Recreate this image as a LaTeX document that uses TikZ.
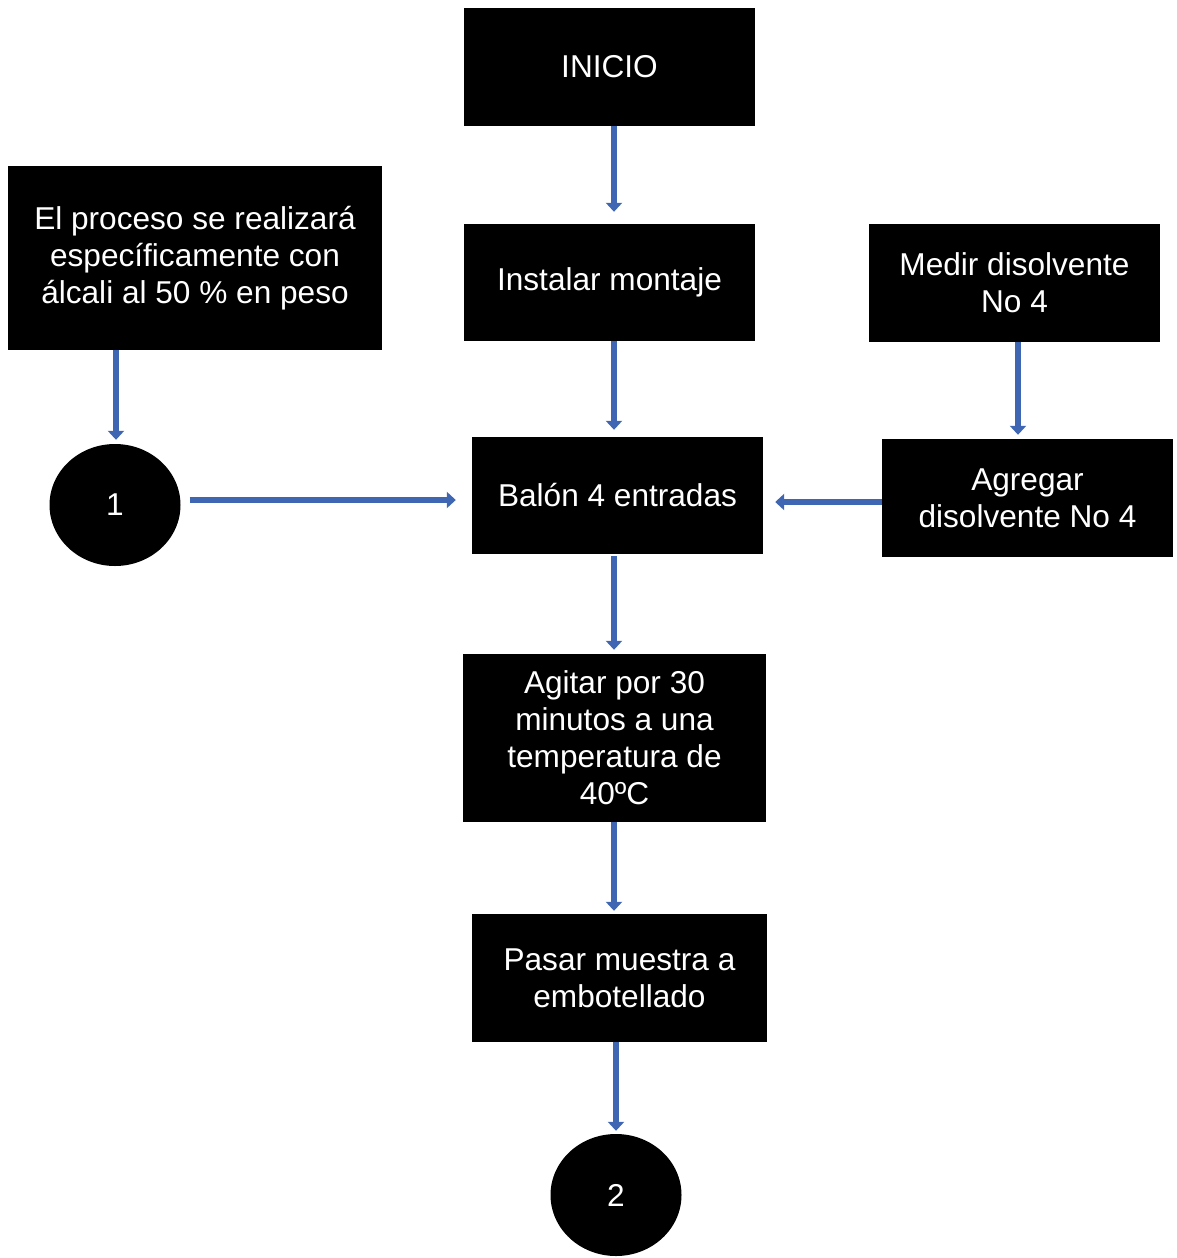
\documentclass[tikz,border=0pt]{standalone}
\usepackage{fontspec}
\setmainfont{Liberation Sans}
\usetikzlibrary{arrows.meta,shapes.geometric}
\definecolor{flowblue}{RGB}{62,102,178}
\begin{document}
\begin{tikzpicture}[x=1pt,y=-1pt,
  box/.style={fill=black, text=white, inner sep=0pt, align=center,
    font=\fontsize{31.6}{37}\selectfont},
  term/.style={box, ellipse, minimum width=131, minimum height=122},
  flow/.style={draw=flowblue, line width=6.5, -{Triangle[length=9,width=16]}}]
\useasboundingbox (0,0) rectangle (1176,1258);

% process boxes
\node[box, minimum width=291, minimum height=118] (inicio) at (609.5,67) {INICIO};
\node[box, minimum width=291, minimum height=117] (instalar) at (609.5,282.5) {Instalar montaje};
\node[box, minimum width=374, minimum height=184] (nota) at (195,258)
  {El proceso se realizará\\específicamente con\\álcali al 50 \% en peso};
\node[box, minimum width=291, minimum height=118] (medir) at (1014.5,283) {Medir disolvente\\No 4};
\node[box, minimum width=291, minimum height=117] (balon) at (617.5,495.5) {Balón 4 entradas};
\node[box, minimum width=291, minimum height=118] (agregar) at (1027.5,498) {Agregar\\disolvente No 4};
\node[box, minimum width=303, minimum height=168] (agitar) at (614.5,738)
  {Agitar por 30\\minutos a una\\temperatura de\\40ºC};
\node[box, minimum width=295, minimum height=128] (pasar) at (619.5,978) {Pasar muestra a\\embotellado};

% connectors
\node[term] (c1) at (115,505) {1};
\node[term] (c2) at (616,1195) {2};

% arrow lanes
\coordinate (main) at (614,0);
\coordinate (left) at (116,0);
\coordinate (right) at (1018,0);
\coordinate (row1) at (0,500);
\coordinate (row2) at (0,502);

% arrows
\draw[flow, shorten >=12] (inicio.south -| main) -- (instalar.north -| main);
\draw[flow, shorten >=7] (instalar.south -| main) -- (balon.north -| main);
\draw[flow, shorten >=4] (nota.south -| left) -- (c1.north -| left);
\draw[flow, shorten >=4] (medir.south -| right) -- (agregar.north -| right);
\draw[flow, shorten <=9, shorten >=16] (c1.east |- row1) -- (balon.west |- row1);
\draw[flow, shorten >=12] (agregar.west |- row2) -- (balon.east |- row2);
\draw[flow, shorten <=2, shorten >=4] (balon.south -| main) -- (agitar.north -| main);
\draw[flow, shorten >=3] (agitar.south -| main) -- (pasar.north -| main);
\draw[flow, shorten >=3] (pasar.south -| c2) -- (c2.north);
\end{tikzpicture}
\end{document}
